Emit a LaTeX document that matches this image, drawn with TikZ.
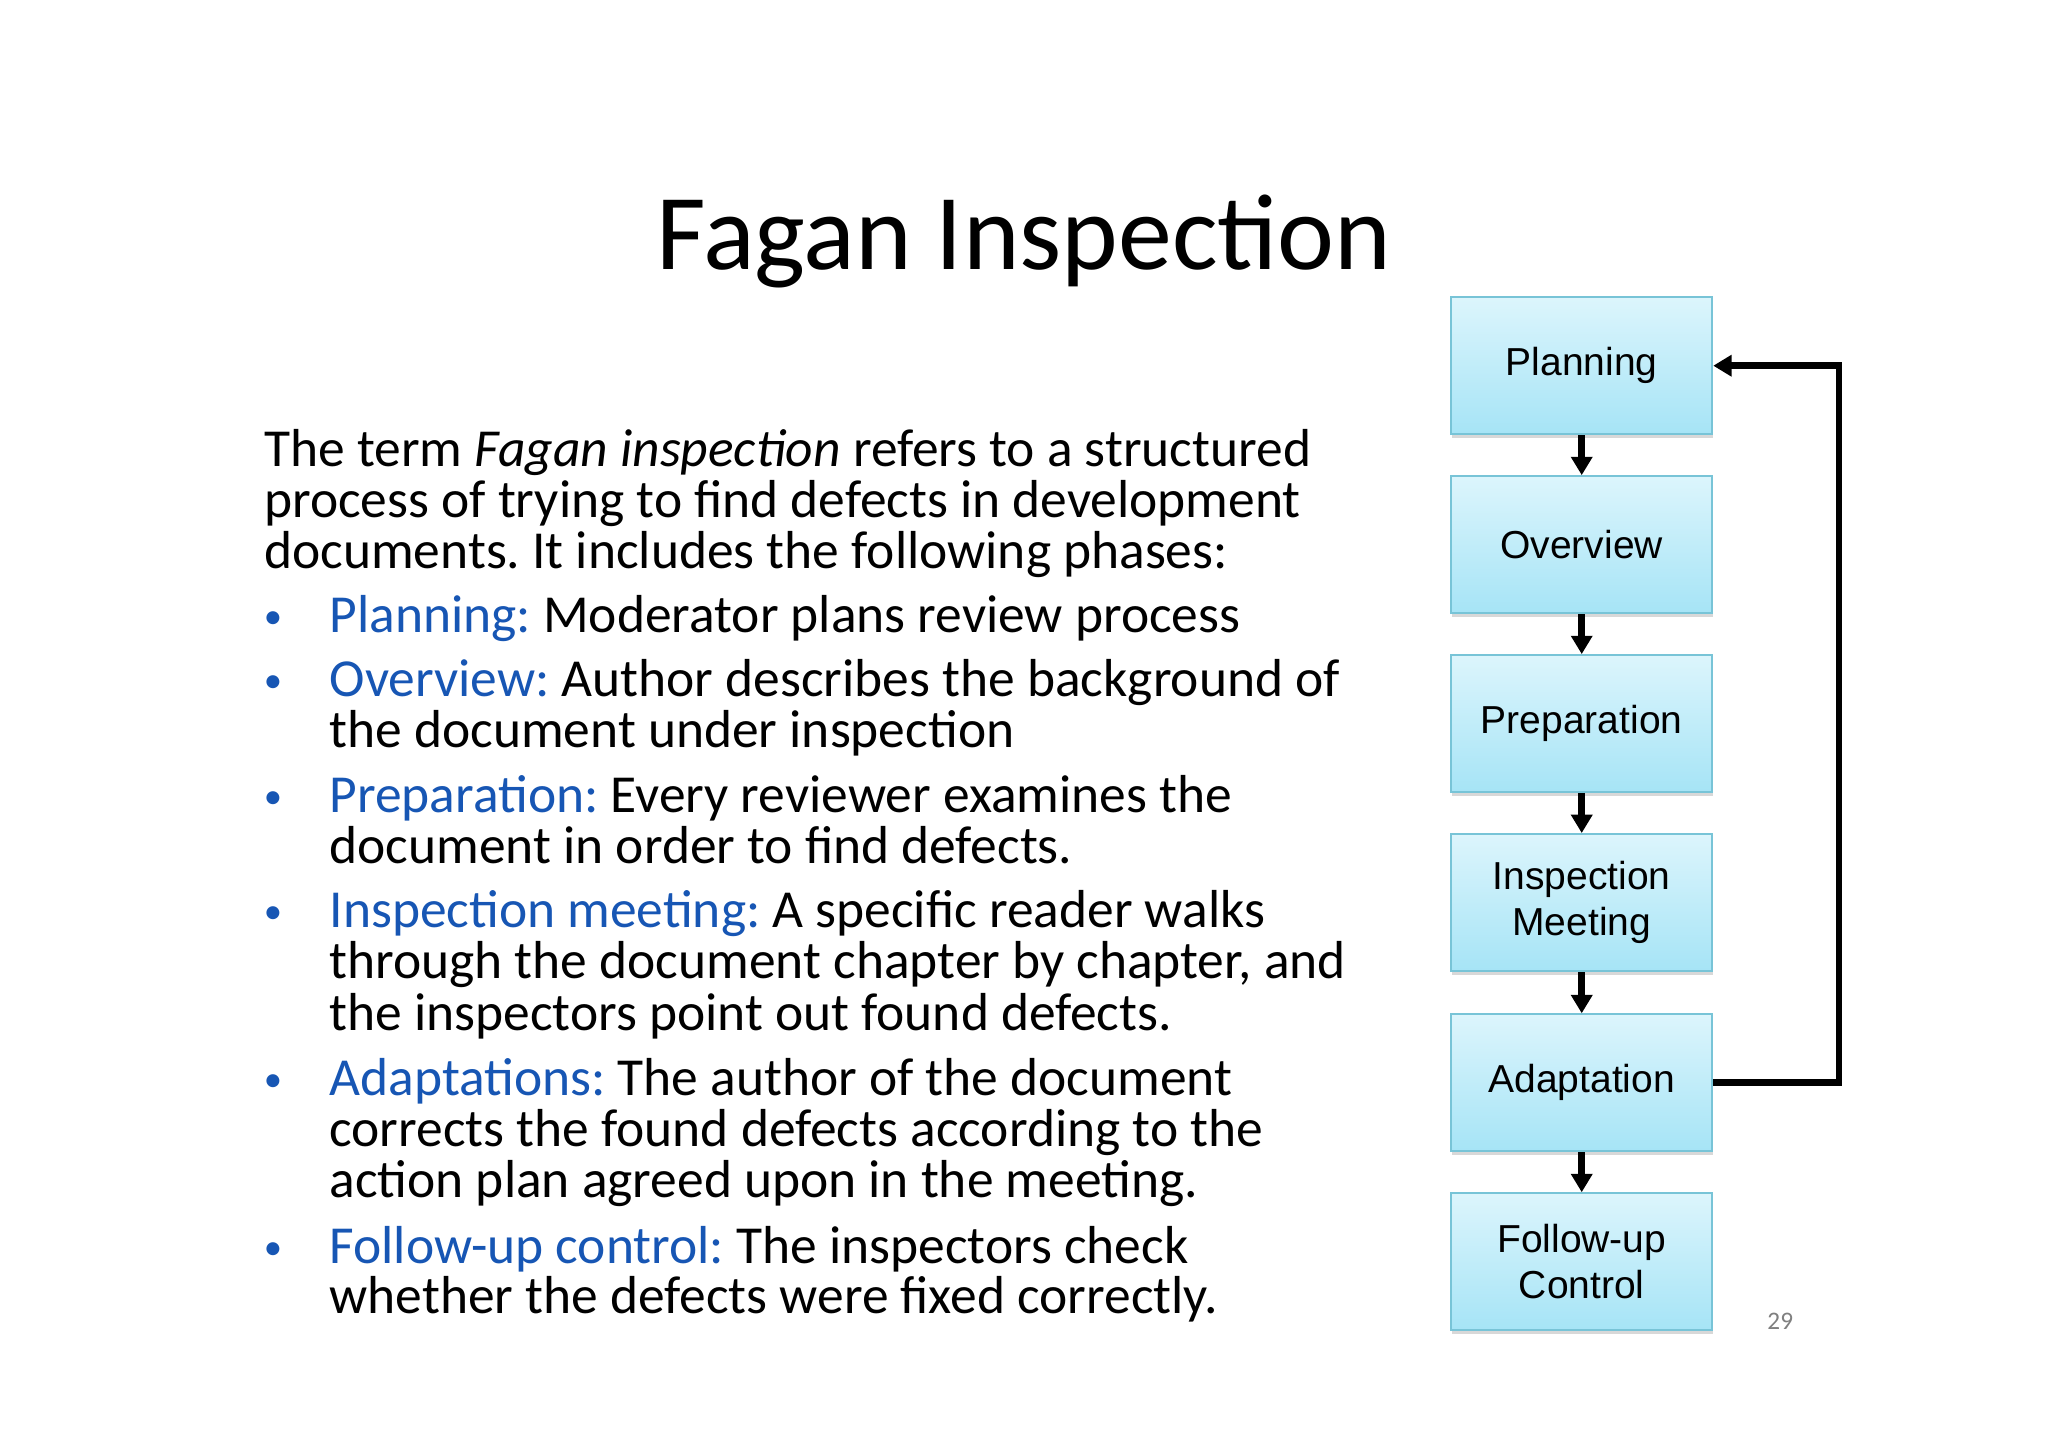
\documentclass[tikz,border=0pt]{standalone}
\usepackage{fontspec}
\setmainfont{Carlito}
\newfontfamily\boxfont{Liberation Sans}
\usetikzlibrary{arrows.meta,shadows}
\definecolor{blu}{RGB}{23,86,180}
\definecolor{boxtop}{RGB}{220,245,252}
\definecolor{boxbot}{RGB}{166,228,246}
\definecolor{boxline}{RGB}{120,196,215}
\tikzset{
 phase/.style={draw=boxline,line width=0.8pt,top color=boxtop,bottom color=boxbot,minimum width=4cm,minimum height=2.1cm,align=center,font=\boxfont\fontsize{17}{20}\selectfont,drop shadow={opacity=0.3,shadow xshift=0.5pt,shadow yshift=-1.5pt}},
 flow/.style={line width=3pt,-{Triangle[length=8pt,width=9pt]}},
 txt/.style={anchor=base west,inner sep=0pt,font=\fontsize{23.3}{26}\selectfont\frenchspacing},
 bul/.style={anchor=base,inner sep=0pt,font=\fontsize{16}{20}\selectfont,text=blu}
}
\begin{document}
\begin{tikzpicture}[x=0.02cm,y=-0.02cm]
\useasboundingbox (0,0) rectangle (1568,1108);
\fill[white] (0,0) rectangle (1568,1108);
\node[font=\fontsize{47}{54}\selectfont] (title) at (784,185) {Fagan Inspection};
\node[txt] (l1) at (202,357) {The term \textit{Fagan inspection} refers to a structured};
\node[txt] (l2) at (202,396) {process of trying to find defects in development};
\node[txt] (l3) at (202,435) {documents. It includes the following phases:};
\foreach \y in {484,533,622,710,839,967}{\node[bul] at (209,\y-3) {•};}
\node[txt] at (252,484) {\textcolor{blu}{Planning:} Moderator plans review process};
\node[txt] at (252,533) {\textcolor{blu}{Overview:} Author describes the background of};
\node[txt] at (252,572) {the document under inspection};
\node[txt] at (252,622) {\textcolor{blu}{Preparation:} Every reviewer examines the};
\node[txt] at (252,661) {document in order to find defects.};
\node[txt] at (252,710) {\textcolor{blu}{Inspection meeting:} A specific reader walks};
\node[txt] at (252,749) {through the document chapter by chapter, and};
\node[txt] at (252,789) {the inspectors point out found defects.};
\node[txt] at (252,839) {\textcolor{blu}{Adaptations:} The author of the document};
\node[txt] at (252,878) {corrects the found defects according to the};
\node[txt] at (252,917) {action plan agreed upon in the meeting.};
\node[txt] at (252,967) {\textcolor{blu}{Follow-up control:} The inspectors check};
\node[txt] at (252,1006) {whether the defects were fixed correctly.};
\node[phase] (p1) at (1211,280) {Planning};
\node[phase] (p2) at (1211,417) {Overview};
\node[phase] (p3) at (1211,554) {Preparation};
\node[phase] (p4) at (1211,691) {Inspection\\Meeting};
\node[phase] (p5) at (1211,829) {Adaptation};
\node[phase] (p6) at (1211,966) {Follow-up\\Control};
\foreach \a/\b in {p1/p2,p2/p3,p3/p4,p4/p5,p5/p6}{\draw[flow] (\a.south) -- (\b.north);}
\coordinate (c1) at (1408,829);
\coordinate (c2) at (1408,280);
\draw[flow] (p5.east) -- (c1) -- (c2) -- (p1.east);
\node[text=gray,font=\fontsize{11}{13}\selectfont] (pn) at (1363,1012) {29};
\end{tikzpicture}
\end{document}
